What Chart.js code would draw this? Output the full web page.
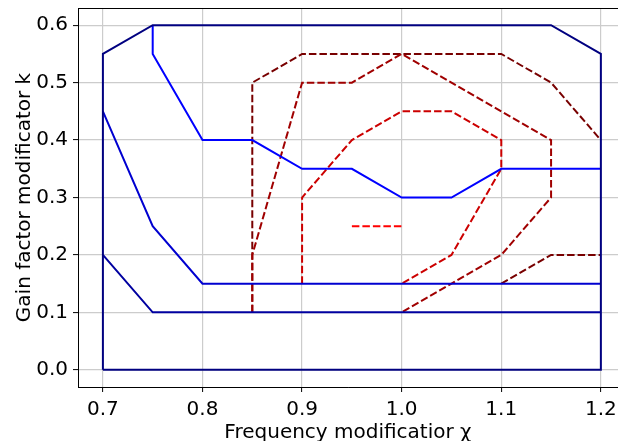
<!DOCTYPE html>
<html>
<head>
<meta charset="utf-8">
<script src="https://cdn.jsdelivr.net/npm/chart.js@4/dist/chart.umd.min.js"></script>
<style>
  html, body { margin: 0; padding: 0; overflow: hidden; background: #fff; }
</style>
</head>
<body>
<canvas id="contourChart" width="618" height="441"></canvas>
<script>
// tick values
const xTicks = [0.7, 0.8, 0.9, 1.0, 1.1, 1.2];
const yTicks = [0.0, 0.1, 0.2, 0.3, 0.4, 0.5, 0.6];

// contour lines, lowest level first
const navyOuterX = [0.7, 0.7, 0.75, 1.15, 1.2, 1.2, 0.7];
const navyOuterY = [0.0, 0.55, 0.6, 0.6, 0.55, 0.0, 0.0];

const navyLowX = [0.7, 0.75, 1.2];
const navyLowY = [0.2, 0.1, 0.1];

const blueMidX = [0.7, 0.75, 0.8, 1.2];
const blueMidY = [0.45, 0.25, 0.15, 0.15];

const blueTopX = [0.75, 0.75, 0.8, 0.85, 0.9, 0.95, 1.0, 1.05, 1.1, 1.2];
const blueTopY = [0.6, 0.55, 0.4, 0.4, 0.35, 0.35, 0.3, 0.3, 0.35, 0.35];

const redInnerX = [0.95, 1.0];
const redInnerY = [0.25, 0.25];

const redX = [0.9, 0.9, 0.95, 1.0, 1.05, 1.1, 1.1, 1.05, 1.0];
const redY = [0.15, 0.3, 0.4, 0.45, 0.45, 0.4, 0.35, 0.2, 0.15];

const darkRedX = [0.85, 0.85, 0.9, 0.95, 1.0, 1.05, 1.1, 1.15, 1.15, 1.1, 1.05, 1.0];
const darkRedY = [0.1, 0.2, 0.5, 0.5, 0.55, 0.5, 0.45, 0.4, 0.3, 0.2, 0.15, 0.1];

const maroonX = [0.85, 0.85, 0.9, 1.1, 1.15, 1.2];
const maroonY = [0.1, 0.5, 0.55, 0.55, 0.5, 0.4];

const maroonLowX = [1.1, 1.15, 1.2];
const maroonLowY = [0.15, 0.2, 0.2];

function pts(xs, ys) {
    return xs.map((x, i) => ({ x: x, y: ys[i] }));
}

function contour(xs, ys, color, dashed) {
    return {
        data: pts(xs, ys),
        borderColor: color,
        borderWidth: 2,
        borderDash: dashed ? [7.5, 3] : [],
        pointRadius: 0,
        tension: 0,
        fill: false,
        showLine: true
    };
}

// top spine (the right one falls outside the picture)
const framePlugin = {
    id: 'frame',
    afterDraw(chart) {
        const { ctx, chartArea } = chart;
        ctx.save();
        ctx.strokeStyle = '#000';
        ctx.lineWidth = 1;
        ctx.beginPath();
        ctx.moveTo(chartArea.left, chartArea.top + 0.5);
        ctx.lineTo(chartArea.right, chartArea.top + 0.5);
        ctx.stroke();
        ctx.restore();
    }
};

const font = { family: 'DejaVu Sans', size: 20 };

new Chart(document.getElementById('contourChart'), {
    type: 'line',
    data: {
        datasets: [
            contour(navyOuterX, navyOuterY, '#000080', false),
            contour(navyLowX, navyLowY, '#0000a0', false),
            contour(blueMidX, blueMidY, '#0000d0', false),
            contour(blueTopX, blueTopY, '#0000ff', false),
            contour(redInnerX, redInnerY, '#ff0000', true),
            contour(redX, redY, '#cc0000', true),
            contour(darkRedX, darkRedY, '#a00000', true),
            contour(maroonX, maroonY, '#780000', true),
            contour(maroonLowX, maroonLowY, '#780000', true)
        ]
    },
    options: {
        responsive: false,
        animation: false,
        devicePixelRatio: 1,
        layout: { padding: { left: 0, top: 8, right: 0, bottom: 0 } },
        plugins: {
            legend: { display: false },
            tooltip: { enabled: false }
        },
        scales: {
            x: {
                type: 'linear',
                min: 0.675,
                max: 1.2172,
                afterBuildTicks: (scale) => { scale.ticks = xTicks.map(v => ({ value: v })); },
                afterFit: (scale) => {
                    scale.height = 54;
                    scale.paddingLeft = 0;
                    scale.paddingRight = 0;
                },
                ticks: {
                    font: font,
                    color: '#000',
                    padding: 6,
                    maxRotation: 0,
                    callback: (v) => v.toFixed(1)
                },
                grid: { color: '#cccccc', lineWidth: 1.2, tickColor: '#000', tickLength: 5, tickWidth: 1 },
                border: { display: true, color: '#000', width: 1 },
                title: {
                    display: true,
                    text: 'Frequency modificatior χ',
                    font: font,
                    color: '#000',
                    padding: { top: 0, bottom: -4 }
                }
            },
            y: {
                type: 'linear',
                min: -0.03,
                max: 0.63,
                afterBuildTicks: (scale) => { scale.ticks = yTicks.map(v => ({ value: v })); },
                afterFit: (scale) => {
                    scale.width = 78;
                    scale.paddingTop = 0;
                    scale.paddingBottom = 0;
                },
                ticks: {
                    font: font,
                    color: '#000',
                    padding: 5,
                    callback: (v) => v.toFixed(1)
                },
                grid: { color: '#cccccc', lineWidth: 1.2, tickColor: '#000', tickLength: 5, tickWidth: 1 },
                border: { display: true, color: '#000', width: 1 },
                title: {
                    display: true,
                    text: 'Gain factor modificator k',
                    font: font,
                    color: '#000',
                    padding: { top: 13, bottom: 0 }
                }
            }
        }
    },
    plugins: [framePlugin]
});
</script>
</body>
</html>
